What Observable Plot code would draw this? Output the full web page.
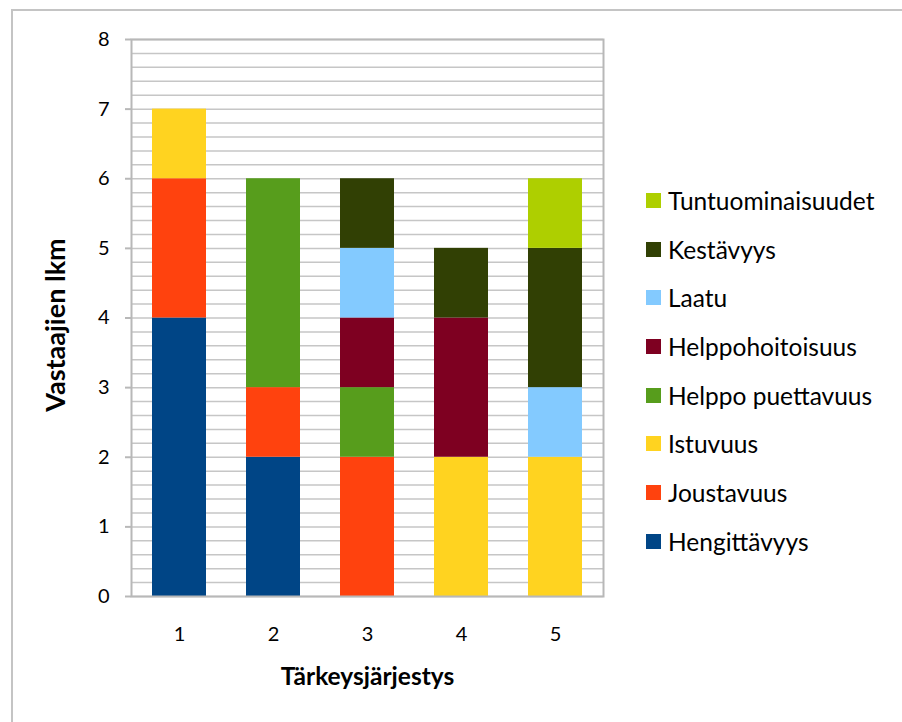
<!DOCTYPE html>
<html>
<head>
<meta charset="utf-8">
<script src="https://cdn.jsdelivr.net/npm/d3@7"></script>
<script src="https://cdn.jsdelivr.net/npm/@observablehq/plot@0.6"></script>
<style>
  html, body { margin: 0; padding: 0; background: #fff; overflow: hidden; }
  #wrap { position: relative; width: 902px; height: 722px; overflow: hidden; font-family: Lato, "Open Sans", sans-serif; }
  #border { position: absolute; left: 11px; top: 9px; width: 1000px; height: 900px; border: 2px solid #c4c4c4; box-sizing: border-box; pointer-events: none; }
  #chart { position: absolute; left: 0; top: 0; }
  #legend { position: absolute; left: 646px; top: 176px; }
  .item { display: flex; align-items: center; height: 48.7px; font-size: 24.5px; color: #000; }
  .sw { width: 15px; height: 15px; margin-right: 7px; flex: none; }
</style>
</head>
<body>
<div id="wrap">
  <div id="chart"></div>
  <div id="legend"></div>
  <div id="border"></div>
</div>
<script>
const categories = [1, 2, 3, 4, 5];
const seriesNames = ["Hengittävyys", "Joustavuus", "Istuvuus", "Helppo puettavuus", "Helppohoitoisuus", "Laatu", "Kestävyys", "Tuntuominaisuudet"];
const seriesColors = ["#004586", "#ff420e", "#ffd320", "#579d1c", "#7e0021", "#83caff", "#314004", "#aecf00"];
const hengittavyys      = [4, 2, 0, 0, 0];
const joustavuus        = [2, 1, 2, 0, 0];
const istuvuus          = [1, 0, 0, 2, 2];
const helppoPuettavuus  = [0, 3, 1, 0, 0];
const helppohoitoisuus  = [0, 0, 1, 2, 0];
const laatu             = [0, 0, 1, 0, 1];
const kestavyys         = [0, 0, 1, 1, 2];
const tuntuominaisuudet = [0, 0, 0, 0, 1];
const yTicks = [0, 1, 2, 3, 4, 5, 6, 7, 8];
const xTitle = "Tärkeysjärjestys";
const yTitle = "Vastaajien lkm";

const seriesValues = [hengittavyys, joustavuus, istuvuus, helppoPuettavuus, helppohoitoisuus, laatu, kestavyys, tuntuominaisuudet];
const data = [];
seriesNames.forEach((s, i) => categories.forEach((c, j) => {
  if (seriesValues[i][j] > 0) data.push({cat: c, series: s, value: seriesValues[i][j]});
}));
const gridValues = d3.range(0, 40 + 1).map(i => i / 5);

const chart = Plot.plot({
  width: 902,
  height: 722,
  marginLeft: 131,
  marginRight: 299,
  marginTop: 39,
  marginBottom: 126,
  style: {fontFamily: "Lato, 'Open Sans', sans-serif", background: "transparent", color: "#000"},
  x: {domain: categories, paddingInner: 0.43, paddingOuter: 0.215, label: null},
  y: {domain: [0, 8], label: null},
  color: {domain: seriesNames, range: seriesColors},
  marks: [
    Plot.ruleY(gridValues, {stroke: "#c6c6c6", strokeWidth: 1.5, strokeOpacity: 1}),
    Plot.barY(data, {x: "cat", y: "value", fill: "series", order: seriesNames}),
    Plot.frame({stroke: "#b8b8b8", strokeWidth: 2}),
    Plot.axisY({ticks: yTicks, tickSize: 6, tickPadding: 16, stroke: "#b8b8b8", strokeWidth: 2, fontSize: 20, label: null, tickFormat: d3.format("d")}),
    Plot.axisX({tickSize: 0, tickPadding: 30, fontSize: 20, label: null}),
    Plot.text([yTitle], {frameAnchor: "left", dx: -75, dy: 7, rotate: -90, fontWeight: "bold", fontSize: 27, textAnchor: "middle"}),
    Plot.text([xTitle], {frameAnchor: "bottom", dy: 88, fontWeight: "bold", fontSize: 24.5, textAnchor: "middle"})
  ]
});
chart.querySelectorAll("text").forEach(t => t.setAttribute("fill", "#000"));
document.getElementById("chart").appendChild(chart);

const legend = d3.select("#legend");
seriesNames.slice().reverse().forEach((s, i) => {
  const idx = seriesNames.indexOf(s);
  const row = legend.append("div").attr("class", "item");
  row.append("div").attr("class", "sw").style("background", seriesColors[idx]);
  row.append("span").text(s);
});
</script>
</body>
</html>
